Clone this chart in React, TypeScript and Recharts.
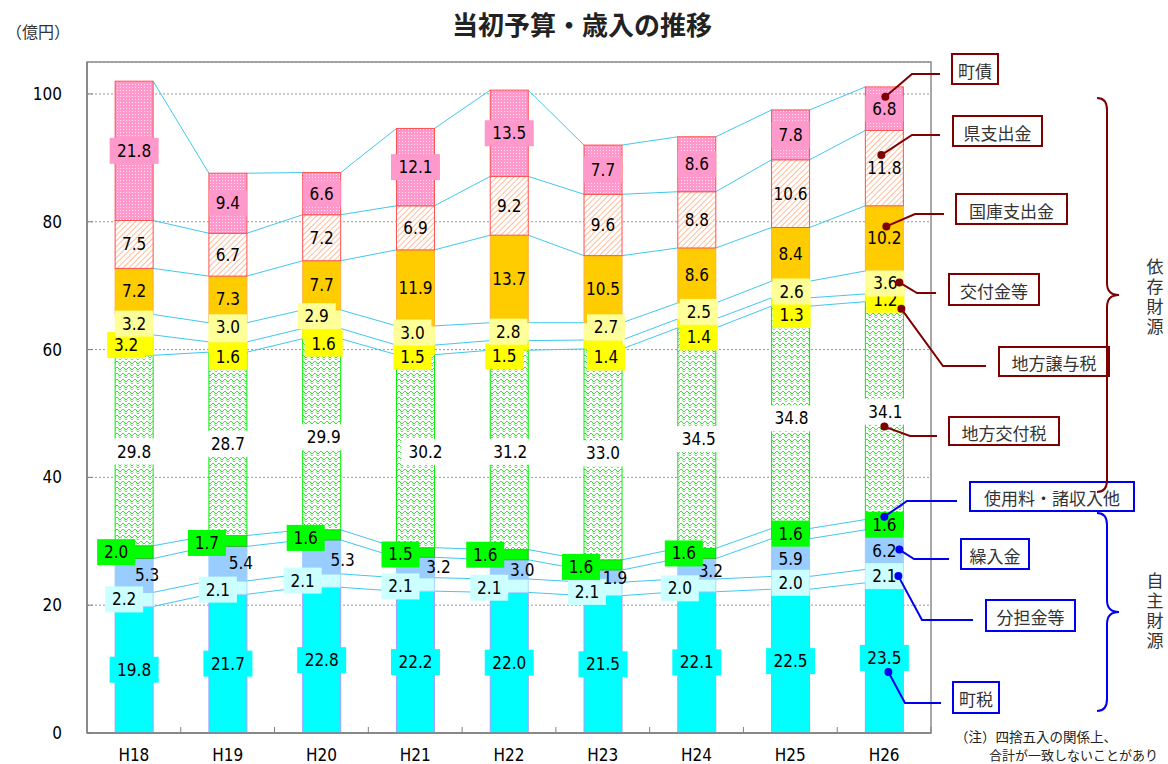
import React from 'react';
import {
  ComposedChart, Bar, XAxis, YAxis, CartesianGrid, ReferenceArea, LabelList,
} from 'recharts';

// 年度
const years = ['H18', 'H19', 'H20', 'H21', 'H22', 'H23', 'H24', 'H25', 'H26'];

// 歳入の内訳（億円）、下から積み上げ順
const chozei = [19.8, 21.7, 22.8, 22.2, 22.0, 21.5, 22.1, 22.5, 23.5];
const buntan = [2.2, 2.1, 2.1, 2.1, 2.1, 2.1, 2.0, 2.0, 2.1];
const kurire = [5.3, 5.4, 5.3, 3.2, 3.0, 1.9, 3.2, 5.9, 6.2];
const shiyo = [2.0, 1.7, 1.6, 1.5, 1.6, 1.6, 1.6, 1.6, 1.6];
const kofuzei = [29.8, 28.7, 29.9, 30.2, 31.2, 33.0, 34.5, 34.8, 34.1];
const joyo = [3.2, 1.6, 1.6, 1.5, 1.5, 1.4, 1.4, 1.3, 1.2];
const kofukin = [3.2, 3.0, 2.9, 3.0, 2.8, 2.7, 2.5, 2.6, 3.6];
const kokko = [7.2, 7.3, 7.7, 11.9, 13.7, 10.5, 8.6, 8.4, 10.2];
const ken = [7.5, 6.7, 7.2, 6.9, 9.2, 9.6, 8.8, 10.6, 11.8];
const chosai = [21.8, 9.4, 6.6, 12.1, 13.5, 7.7, 8.6, 7.8, 6.8];

const yTicks = [0, 20, 40, 60, 80, 100];

// layout
const W = 1168;
const H = 764;
const PLOT_LEFT = 87;
const PLOT_RIGHT = 931;
const PLOT_BOTTOM = 733;
const BAND = (PLOT_RIGHT - PLOT_LEFT) / years.length;

const FONT_NUM = '"DejaVu Sans Condensed", "DejaVu Sans", sans-serif';
const FONT_JP = '"Noto Sans CJK JP", sans-serif';
const DARK_RED = '#7F0000';
const BLUE = '#0000F0';
const SERIES_LINE = '#40C8F0';

type Series = {
  key: string;
  name: string;
  values: number[];
  fill: string;
  stroke: string;
  labelBg: string | null;
};

const SERIES: Series[] = [
  { key: 'chozei', name: '町税', values: chozei, fill: 'url(#dotCyan)', stroke: '#A0A0FF', labelBg: '#00FFFF' },
  { key: 'buntan', name: '分担金等', values: buntan, fill: '#CCFFFF', stroke: '#A8D8FF', labelBg: '#CCFFFF' },
  { key: 'kurire', name: '繰入金', values: kurire, fill: '#99CCFF', stroke: '#99CCFF', labelBg: null },
  { key: 'shiyo', name: '使用料・諸収入他', values: shiyo, fill: '#00FF00', stroke: '#33B033', labelBg: '#00FF00' },
  { key: 'kofuzei', name: '地方交付税', values: kofuzei, fill: 'url(#zigGreen)', stroke: '#00F000', labelBg: '#FFFFFF' },
  { key: 'joyo', name: '地方譲与税', values: joyo, fill: '#FFFF00', stroke: '#F0F000', labelBg: '#FFFF00' },
  { key: 'kofukin', name: '交付金等', values: kofukin, fill: '#FFFF99', stroke: '#FFFF99', labelBg: '#FFFF99' },
  { key: 'kokko', name: '国庫支出金', values: kokko, fill: '#FFCC00', stroke: '#FFB040', labelBg: null },
  { key: 'ken', name: '県支出金', values: ken, fill: 'url(#hatchOrange)', stroke: '#FF5050', labelBg: null },
  { key: 'chosai', name: '町債', values: chosai, fill: 'url(#dotPink)', stroke: '#FF5050', labelBg: '#FF99CC' },
];

// hand-placed label offsets (dx, dy) for the thin segments
const NUDGE: Record<string, [number[], number[]]> = {
  buntan: [[-10, -10, -19, -15, -20, -16, -17, 0, 0], [0, 2, 0, 2, 2, 3, 3, 0, 0]],
  kurire: [[13, 13, 21, 23, 13, 12, 14, 0, 0], [0, -1, 3, 0, 1, 2, 2, 1, 1]],
  shiyo: [[-18, -21, -16, -15, -24, -22, -13, 0, 0], [0, 2, 3, 2, 0, 2, 0, 0, 0]],
  kofuzei: [[0, 0, 2, 10, 1, 0, 2, 1, 1], [1, 0, 3, 1, 2, -1, 1, 1, 1]],
  joyo: [[-8, 0, 2, -3, -5, 3, 2, 1, 1], [0, 10, 10, 7, 11, 13, 14, 13, 2]],
  kofukin: [[0, 0, -5, -3, -1, 3, 2, 1, 1], [-1, -5, -3, -3, 0, -4, 1, 2, 1]],
};

// callouts on the last bar: dot offset from segment centre, elbow, end, box
type Callout = { color: string; dot: [number, number]; elbow: [number, number]; end: [number, number]; box: [number, number, number, number] };
const CALLOUTS: Record<string, Callout> = {
  chosai: { color: DARK_RED, dot: [1, -12], elbow: [912, 74], end: [940, 74], box: [952, 54, 46, 30] },
  ken: { color: DARK_RED, dot: [-3, -13], elbow: [912, 135], end: [940, 135], box: [953, 116, 89, 30] },
  kokko: { color: DARK_RED, dot: [2, -12], elbow: [915, 214], end: [944, 214], box: [956, 194, 111, 30] },
  kofukin: { color: DARK_RED, dot: [15, 0], elbow: [917, 293], end: [936, 293], box: [949, 274, 90, 31] },
  joyo: { color: DARK_RED, dot: [17, 11], elbow: [943, 366], end: [986, 366], box: [999, 347, 110, 29] },
  kofuzei: { color: DARK_RED, dot: [0, 16], elbow: [910, 436], end: [937, 436], box: [949, 417, 110, 28] },
  shiyo: { color: BLUE, dot: [0, -8], elbow: [907, 501], end: [957, 501], box: [970, 482, 164, 29] },
  kurire: { color: BLUE, dot: [15, 0], elbow: [914, 559], end: [949, 559], box: [961, 539, 68, 30] },
  buntan: { color: BLUE, dot: [14, 0], elbow: [922, 620], end: [973, 620], box: [986, 600, 89, 31] },
  chozei: { color: BLUE, dot: [4, 14], elbow: [905, 703], end: [941, 703], box: [953, 682, 46, 31] },
};

const data = years.map((year, i) => {
  const row: Record<string, string | number> = { year };
  SERIES.forEach(s => { row[s.key] = s.values[i]; });
  return row;
});

const last = years.length - 1;

const makeShape = (si: number) => (props: any) => {
  const { x, y, width, height, index } = props;
  const s = SERIES[si];
  const els: React.ReactNode[] = [
    <rect key="r" x={x} y={y} width={width} height={height} fill={s.fill} stroke={s.stroke} strokeWidth={1} />,
  ];
  // series lines joining the segment tops of neighbouring bars
  if (si === 0 && index < last && height > 0) {
    const k = height / s.values[index];
    const base = y + height;
    let c0 = 0;
    let c1 = 0;
    SERIES.forEach((t, j) => {
      c0 += t.values[index];
      c1 += t.values[index + 1];
      els.push(
        <line key={`s${j}`} x1={x + width} y1={base - c0 * k} x2={x + BAND} y2={base - c1 * k}
          stroke={SERIES_LINE} strokeWidth={1} />,
      );
    });
  }
  return <g>{els}</g>;
};

const makeLabel = (si: number) => (props: any) => {
  const vb = props.viewBox && props.viewBox.width !== undefined ? props.viewBox : props;
  const { x, y, width, height } = vb;
  const index: number = props.index;
  const s = SERIES[si];
  const text = s.values[index].toFixed(1);
  const nudge = NUDGE[s.key];
  const cx = x + width / 2 + (nudge ? nudge[0][index] : 0);
  const cy = y + height / 2 + (nudge ? nudge[1][index] : 0);
  const bw = text.length * 11 + 5;
  const bh = 26;
  const co = CALLOUTS[s.key];
  let leader: React.ReactNode = null;
  if (co && index === last) {
    // leader from the segment to its name box
    const px = x + width / 2 + co.dot[0];
    const py = y + height / 2 + co.dot[1];
    leader = (
      <g>
        <polyline points={`${px},${py} ${co.elbow[0]},${co.elbow[1]} ${co.end[0]},${co.end[1]}`}
          fill="none" stroke={co.color} strokeWidth={2} />
        <circle cx={px} cy={py} r={4} fill={co.color} />
      </g>
    );
  }
  return (
    <g>
      {s.labelBg && <rect x={cx - bw / 2} y={cy - bh / 2} width={bw} height={bh} fill={s.labelBg} />}
      <text x={cx} y={cy} textAnchor="middle" dominantBaseline="central"
        fontFamily={FONT_NUM} fontSize={17} fill="#000">{text}</text>
      {leader}
    </g>
  );
};

const renderXTick = (props: any) => {
  const { x, payload } = props;
  return (
    <g>
      <line x1={x + BAND / 2} y1={PLOT_BOTTOM - 6} x2={x + BAND / 2} y2={PLOT_BOTTOM} stroke="#808080" />
      <text x={x} y={PLOT_BOTTOM + 22} textAnchor="middle" dominantBaseline="central"
        fontFamily={FONT_NUM} fontSize={17} fill="#000">{payload.value}</text>
    </g>
  );
};

function Overlay() {
  const brace = (top: number, tip: number, bottom: number) =>
    `M1097,${top} Q1107,${top} 1107,${top + 12} L1107,${tip - 12} Q1107,${tip} 1119,${tip} ` +
    `Q1107,${tip} 1107,${tip + 12} L1107,${bottom - 12} Q1107,${bottom} 1097,${bottom}`;
  return (
    <svg width={W} height={H} style={{ position: 'absolute', left: 0, top: 0, pointerEvents: 'none' }}>
      <text x={582} y={23} textAnchor="middle" dominantBaseline="central" fontFamily={FONT_JP}
        fontWeight={700} fontSize={26} fill="#222">当初予算・歳入の推移</text>
      <text x={6} y={31} dominantBaseline="central" fontFamily={FONT_JP} fontSize={16} fill="#333">（億円）</text>

      {SERIES.map(s => {
        const co = CALLOUTS[s.key];
        const [bx, by, bw, bh] = co.box;
        return (
          <g key={s.key}>
            <rect x={bx} y={by} width={bw} height={bh} fill="#fff" stroke={co.color} strokeWidth={2} />
            <text x={bx + bw / 2} y={by + bh / 2 + 1} textAnchor="middle" dominantBaseline="central"
              fontFamily={FONT_JP} fontSize={17} fill="#333">{s.name}</text>
          </g>
        );
      })}

      <path d={brace(98, 295, 492)} fill="none" stroke={DARK_RED} strokeWidth={2} />
      <path d={brace(513, 612, 711)} fill="none" stroke={BLUE} strokeWidth={2} />
      <text x={1155} y={258} writingMode="vertical-rl" fontFamily={FONT_JP} fontSize={17}
        letterSpacing={3} fill="#333">依存財源</text>
      <text x={1155} y={572} writingMode="vertical-rl" fontFamily={FONT_JP} fontSize={17}
        letterSpacing={3} fill="#333">自主財源</text>

      <text x={955} y={736} dominantBaseline="central" fontFamily={FONT_JP} fontSize={13.5} fill="#222">
        （注）四捨五入の関係上、
      </text>
      <text x={989} y={754} dominantBaseline="central" fontFamily={FONT_JP} fontSize={13} fill="#222">
        合計が一致しないことがあり
      </text>
    </svg>
  );
}

export default function App() {
  return (
    <div style={{ position: 'absolute', left: 0, top: 0, width: W, height: H, background: '#fff', overflow: 'hidden' }}>
      <ComposedChart width={W} height={H} data={data} barCategoryGap="30%"
        margin={{ top: 62, right: W - PLOT_RIGHT, bottom: 0, left: PLOT_LEFT - 60 }}>
        <defs>
          <pattern id="dotCyan" width="4" height="4" patternUnits="userSpaceOnUse">
            <rect width="4" height="4" fill="#00FFFF" />
            <rect x="1" y="1" width="1" height="1" fill="#D890E8" />
          </pattern>
          <pattern id="dotPink" width="3" height="3" patternUnits="userSpaceOnUse">
            <rect width="3" height="3" fill="#FF99CC" />
            <rect x="0" y="0" width="1" height="1" fill="#FFE0F0" />
          </pattern>
          <pattern id="zigGreen" width="6" height="6" patternUnits="userSpaceOnUse">
            <rect width="6" height="6" fill="#FFFFFF" />
            <path d="M0,4 L3,1 L6,4" fill="none" stroke="#3CE03C" strokeWidth="1" />
            <path d="M0,6 L1.5,4.5 M4.5,4.5 L6,6" fill="none" stroke="#3CE03C" strokeWidth="0.8" />
          </pattern>
          <pattern id="hatchOrange" width="4" height="4" patternUnits="userSpaceOnUse" patternTransform="rotate(45)">
            <rect width="4" height="4" fill="#FFFFFF" />
            <line x1="0" y1="0" x2="0" y2="4" stroke="#FFA070" strokeWidth="1.4" />
          </pattern>
        </defs>
        <CartesianGrid vertical={false} stroke="#9a9a9a" strokeDasharray="2 2" />
        <XAxis dataKey="year" height={31} interval={0} tickLine={false}
          axisLine={{ stroke: '#808080', strokeWidth: 1.5 }} tick={renderXTick} />
        <YAxis width={60} domain={[0, 105]} ticks={yTicks} allowDataOverflow
          tickSize={-6} tickMargin={31}
          axisLine={{ stroke: '#808080', strokeWidth: 1.5 }} tickLine={{ stroke: '#808080' }}
          tick={{ fontSize: 17, fill: '#000', fontFamily: FONT_NUM }} />
        <ReferenceArea y1={0} y2={105} fill="none" stroke="#8c8c8c" strokeWidth={1.5} ifOverflow="visible" />
        {SERIES.map((s, si) => (
          <Bar key={s.key} dataKey={s.key} name={s.name} stackId="rev" isAnimationActive={false}
            shape={makeShape(si)}>
            <LabelList dataKey={s.key} content={makeLabel(si)} />
          </Bar>
        ))}
      </ComposedChart>
      <Overlay />
    </div>
  );
}
